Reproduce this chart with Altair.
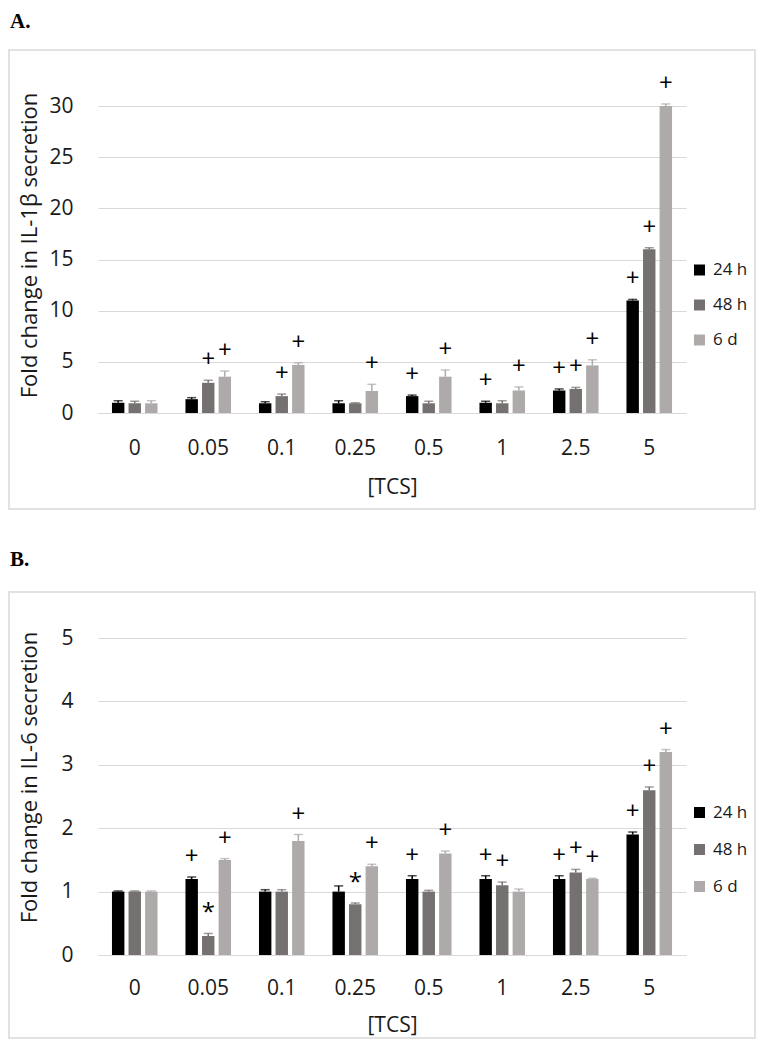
import altair as alt
import pandas as pd

FONT = "Open Sans"
TXT = "#1a1a1a"

cats = ["0", "0.05", "0.1", "0.25", "0.5", "1", "2.5", "5"]
series = ["24 h", "48 h", "6 d"]
colors = ["#000000", "#767171", "#aeaaaa"]

# Panel A: IL-1beta
a_24 = [1.0, 1.35, 0.95, 0.95, 1.65, 1.0, 2.2, 11.0]
a_24_err = [0.2, 0.15, 0.15, 0.25, 0.1, 0.15, 0.15, 0.1]
a_48 = [0.95, 2.95, 1.65, 0.95, 0.95, 0.95, 2.35, 16.0]
a_48_err = [0.2, 0.25, 0.2, 0.05, 0.2, 0.25, 0.15, 0.15]
a_6d = [0.95, 3.55, 4.7, 2.15, 3.55, 2.2, 4.65, 30.0]
a_6d_err = [0.25, 0.55, 0.2, 0.65, 0.65, 0.35, 0.55, 0.2]
a_24_sig = ["", "", "", "", "+", "+", "+", "+"]
a_48_sig = ["", "+", "+", "", "", "", "+", "+"]
a_6d_sig = ["", "+", "+", "+", "+", "+", "+", "+"]

# Panel B: IL-6
b_24 = [1.0, 1.2, 1.0, 1.0, 1.2, 1.2, 1.2, 1.9]
b_24_err = [0.01, 0.03, 0.03, 0.09, 0.05, 0.05, 0.05, 0.04]
b_48 = [1.0, 0.3, 1.0, 0.8, 1.0, 1.1, 1.3, 2.6]
b_48_err = [0.01, 0.04, 0.03, 0.02, 0.02, 0.05, 0.05, 0.05]
b_6d = [1.0, 1.5, 1.8, 1.4, 1.6, 1.0, 1.2, 3.2]
b_6d_err = [0.01, 0.02, 0.1, 0.03, 0.04, 0.04, 0.01, 0.04]
b_24_sig = ["", "+", "", "", "+", "+", "+", "+"]
b_48_sig = ["", "*", "", "*", "", "+", "+", "+"]
b_6d_sig = ["", "+", "+", "+", "+", "", "+", "+"]

a_ticks = [0, 5, 10, 15, 20, 25, 30]
b_ticks = [0, 1, 2, 3, 4, 5]


def long_table(vals_list, errs_list, sigs_list):
    rows = []
    for s, vals, errs, sigs in zip(series, vals_list, errs_list, sigs_list):
        for c, v, e, g in zip(cats, vals, errs, sigs):
            rows.append({"TCS": c, "Time": s, "value": v, "top": v + e, "sig": g})
    return pd.DataFrame(rows)


def panel(df, ymax, yvals, ytitle, height, letter, frame_top, frame_bottom,
          letter_top, legend_y, row_pad, xlab_pad, xtitle_pad):
    base = alt.Chart(df).encode(
        x=alt.X("TCS:N", sort=cats,
                scale=alt.Scale(paddingInner=0.38, paddingOuter=0.19),
                axis=alt.Axis(title="[TCS]", labelAngle=0, domain=True,
                              domainColor="#d9d9d9", domainWidth=1,
                              ticks=False, tickSize=0, labelPadding=xlab_pad,
                              labelFontSize=21, labelFont=FONT, labelColor=TXT,
                              titleFont=FONT, titleFontSize=21,
                              titleFontWeight="normal", titleColor=TXT,
                              titlePadding=xtitle_pad)),
        xOffset=alt.XOffset("Time:N", sort=series,
                            scale=alt.Scale(paddingInner=0.25, paddingOuter=0)),
    )
    color_scale = alt.Scale(domain=series, range=colors)
    bars = base.mark_bar().encode(
        y=alt.Y("value:Q", scale=alt.Scale(domain=[0, ymax], nice=False),
                axis=alt.Axis(title=ytitle, values=yvals, format="d", grid=True,
                              gridColor="#d9d9d9", gridWidth=1, domain=False,
                              ticks=False, tickSize=0, labelPadding=25,
                              labelFontSize=21, labelFont=FONT, labelColor=TXT,
                              titleFont=FONT, titleFontSize=22,
                              titleFontWeight="normal", titleColor=TXT,
                              titleX=-57, titleY=139)),
        color=alt.Color("Time:N", sort=series, scale=color_scale,
                        legend=alt.Legend(title=None, orient="none",
                                          legendX=593, legendY=legend_y,
                                          symbolType="square", symbolSize=121,
                                          symbolStrokeWidth=0,
                                          labelFontSize=17, labelFont=FONT,
                                          labelColor=TXT, labelOffset=5,
                                          rowPadding=row_pad, padding=0)),
    )
    stems = base.mark_rule(strokeWidth=1.5).encode(
        y="value:Q", y2="top:Q",
        color=alt.Color("Time:N", sort=series, scale=color_scale, legend=None),
    )
    caps = base.mark_tick(thickness=1.5, size=9).encode(
        y="top:Q",
        color=alt.Color("Time:N", sort=series, scale=color_scale, legend=None),
    )
    sig = base.transform_filter(alt.datum.sig != "").mark_text(
        baseline="middle", dy=-20, fontSize=24, font=FONT, color="#000000"
    ).encode(y="top:Q", text="sig:N")

    deco = pd.DataFrame({"letter": [letter]})
    frame = alt.Chart(deco).mark_rect(fillOpacity=0, stroke="#d9d9d9",
                                      strokeWidth=1.5).encode(
        x=alt.value(-89), x2=alt.value(657),
        y=alt.value(frame_top), y2=alt.value(frame_bottom))
    lab = alt.Chart(deco).mark_text(font="Liberation Serif", fontWeight="bold",
                                    fontSize=21, align="left", baseline="top",
                                    color="#000000").encode(
        x=alt.value(-88), y=alt.value(letter_top), text="letter:N")

    return alt.layer(frame, bars, stems, caps, sig, lab).properties(
        width=588, height=height)


dfa = long_table([a_24, a_48, a_6d], [a_24_err, a_48_err, a_6d_err],
                 [a_24_sig, a_48_sig, a_6d_sig])
dfb = long_table([b_24, b_48, b_6d], [b_24_err, b_48_err, b_6d_err],
                 [b_24_sig, b_48_sig, b_6d_sig])

A = panel(dfa, 30, a_ticks, "Fold change in IL-1β secretion", 307, "A.",
          -56, 403, -95, 155.5, 17, 24, 18)
B = panel(dfb, 5, b_ticks, "Fold change in IL-6 secretion", 317, "B.",
          -46, 400, -89, 166, 19, 22, 16)

chart = alt.vconcat(A, B, spacing=39).resolve_scale(
    color="independent").resolve_legend(color="independent").properties(
    padding={"top": 3, "left": 0, "right": 0, "bottom": 0}
).configure_view(stroke=None)

chart.save("out.html", embed_options={"renderer": "svg", "actions": False})
